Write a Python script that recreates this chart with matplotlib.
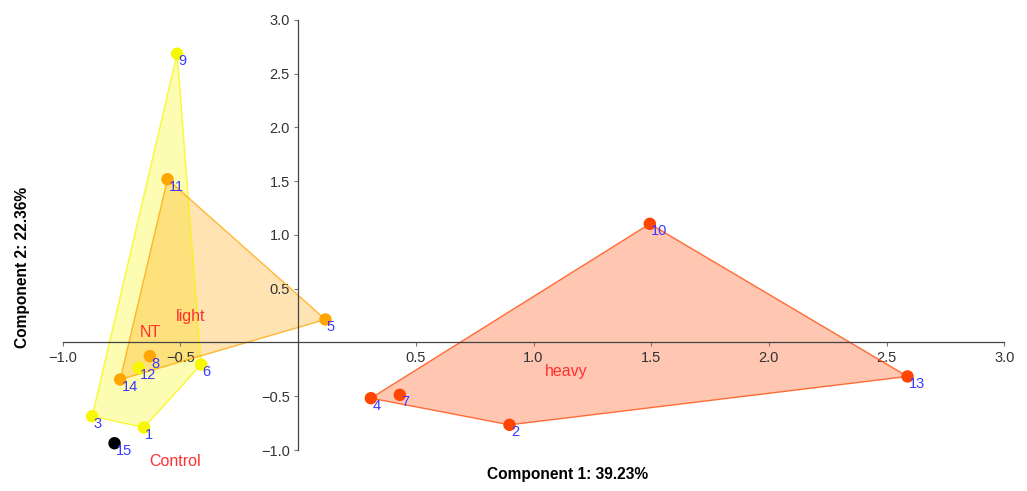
import matplotlib.pyplot as plt
from matplotlib.patches import Polygon

plt.rcParams['font.family'] = ['Liberation Sans', 'DejaVu Sans']

# PCA scores per sample
sample = ['1', '2', '3', '4', '5', '6', '7', '8', '9', '10', '11', '12', '13', '14', '15']
pc1 = [-0.655, 0.898, -0.875, 0.309, 0.116, -0.412, 0.432, -0.630, -0.514, 1.494,
       -0.555, -0.677, 2.589, -0.756, -0.780]
pc2 = [-0.791, -0.766, -0.686, -0.518, 0.214, -0.205, -0.487, -0.127, 2.686, 1.104,
       1.519, -0.235, -0.316, -0.344, -0.937]
group = ['NT', 'heavy', 'NT', 'heavy', 'light', 'NT', 'heavy', 'light', 'NT', 'heavy',
         'light', 'NT', 'heavy', 'light', 'Control']

groups = ['NT', 'light', 'heavy', 'Control']
colors = {'NT': '#f7f700', 'light': '#ffa500', 'heavy': '#ff4500', 'Control': '#000000'}

# where the group names sit
group_label_x = [-0.630, -0.456, 1.137, -0.524]
group_label_y = [0.093, 0.242, -0.270, -1.107]


def hull(pts):
    pts = sorted(set(pts))
    if len(pts) < 3:
        return pts

    def cross(o, a, b):
        return (a[0] - o[0]) * (b[1] - o[1]) - (a[1] - o[1]) * (b[0] - o[0])
    lower, upper = [], []
    for p in pts:
        while len(lower) >= 2 and cross(lower[-2], lower[-1], p) <= 0:
            lower.pop()
        lower.append(p)
    for p in reversed(pts):
        while len(upper) >= 2 and cross(upper[-2], upper[-1], p) <= 0:
            upper.pop()
        upper.append(p)
    return lower[:-1] + upper[:-1]


fig = plt.figure(figsize=(10.27, 4.91), dpi=100)
ax = fig.add_axes([0.0611, 0.0835, 0.9168, 0.8758])

for g in groups:
    pts = [(x, y) for x, y, gg in zip(pc1, pc2, group) if gg == g]
    if len(pts) >= 3:
        ax.add_patch(Polygon(hull(pts), closed=True, facecolor=colors[g], alpha=0.3,
                             edgecolor='none', zorder=1))
        ax.add_patch(Polygon(hull(pts), closed=True, fill=False, edgecolor=colors[g],
                             alpha=0.75, lw=1, zorder=2))

for x, y, s, g in zip(pc1, pc2, sample, group):
    ax.scatter(x, y, s=80, color=colors[g], edgecolors='none', zorder=3)
    ax.annotate(s, (x, y), xytext=(1, -5.4), textcoords='offset points', ha='left', va='center',
                color='#3a3aff', fontsize=10.5, zorder=4)

for g, lx, ly in zip(groups, group_label_x, group_label_y):
    ax.text(lx, ly, g, color='#ff3030', fontsize=11.5, ha='center', va='center', zorder=4)

ax.set_xlim(-1.0, 3.0)
ax.set_ylim(-1.0, 3.0)
ticks = [-1.0, -0.5, 0.5, 1.0, 1.5, 2.0, 2.5, 3.0]
ax.set_xticks(ticks)
ax.set_yticks(ticks)
ax.set_xticklabels(['\u22121.0', '\u22120.5', '0.5', '1.0', '1.5', '2.0', '2.5', '3.0'])
ax.set_yticklabels(['\u22121.0', '\u22120.5', '0.5', '1.0', '1.5', '2.0', '2.5', '3.0'])
ax.spines['left'].set_position(('data', 0))
ax.spines['bottom'].set_position(('data', 0))
ax.spines['right'].set_visible(False)
ax.spines['top'].set_visible(False)
for sp in ['left', 'bottom']:
    ax.spines[sp].set_color('#444444')
    ax.spines[sp].set_linewidth(0.9)
ax.tick_params(axis='both', direction='out', length=3, width=0.8, color='#777777',
               labelsize=10.5, labelcolor='#333333', pad=3)

fig.text(0.553, 0.018, 'Component 1: 39.23%', ha='center', va='bottom',
         fontsize=11.2, fontweight='bold')
fig.text(0.022, 0.456, 'Component 2: 22.36%', ha='center', va='center', rotation=90,
         fontsize=11.2, fontweight='bold')

fig.savefig('out.png', dpi=100)
